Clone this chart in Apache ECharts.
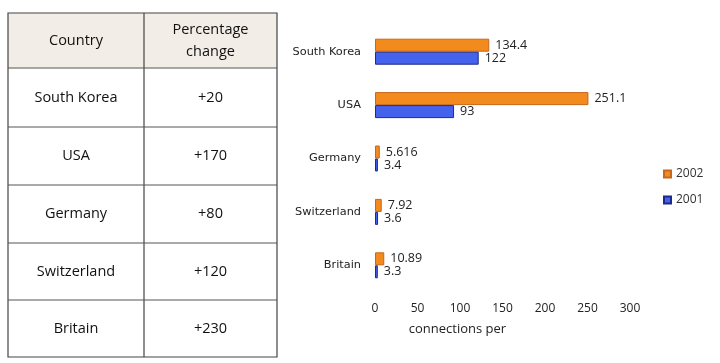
<!DOCTYPE html>
<html><head><meta charset="utf-8">
<script src="https://cdn.jsdelivr.net/npm/echarts@6/dist/echarts.min.js"></script>
<style>html,body{margin:0;padding:0;background:#fff}#c{width:720px;height:363px}</style>
</head><body><div id="c"></div>
<script>
const countries = ['South Korea', 'USA', 'Germany', 'Switzerland', 'Britain'];
const pctChange = ['+20', '+170', '+80', '+120', '+230'];
const tableHeaders = ['Country', 'Percentage\nchange'];
const values2002 = [134.4, 251.1, 5.616, 7.92, 10.89];
const values2001 = [122, 93, 3.4, 3.6, 3.3];
const seriesNames = ['2002', '2001'];
const xTicks = [0, 300, 50];
const axisTitle = 'connections per';

const chart = echarts.init(document.getElementById('c'));
const tX0 = 8, tX1 = 144, tX2 = 277;
const rowsY = [13, 68, 127, 185, 243, 300, 357];
const g = [];
g.push({type:'rect', shape:{x:tX0, y:rowsY[0], width:tX2-tX0, height:rowsY[1]-rowsY[0]}, style:{fill:'#f3ede7'}, z:0});
g.push({type:'rect', shape:{x:tX0, y:rowsY[0], width:tX2-tX0, height:rowsY[6]-rowsY[0]}, style:{fill:'none', stroke:'#444', lineWidth:1.2}, z:2});
g.push({type:'line', shape:{x1:tX1, y1:rowsY[0], x2:tX1, y2:rowsY[6]}, style:{stroke:'#444', lineWidth:1.2}, z:2});
for (let i=1;i<6;i++) g.push({type:'line', shape:{x1:tX0, y1:rowsY[i], x2:tX2, y2:rowsY[i]}, style:{stroke:'#555', lineWidth:1}, z:2});
const tf = '"Open Sans", sans-serif';
g.push({type:'text', x:(tX0+tX1)/2, y:(rowsY[0]+rowsY[1])/2, style:{text:tableHeaders[0], font:'14.5px '+tf, fill:'#111', align:'center', verticalAlign:'middle'}, z:3});
g.push({type:'text', x:(tX1+tX2)/2, y:(rowsY[0]+rowsY[1])/2, style:{text:tableHeaders[1], font:'14.5px '+tf, fill:'#111', align:'center', verticalAlign:'middle', lineHeight:22}, z:3});
countries.forEach((c,i)=>{
  const cy=(rowsY[i+1]+rowsY[i+2])/2;
  g.push({type:'text', x:(tX0+tX1)/2, y:cy, style:{text:c, font:'14.5px '+tf, fill:'#111', align:'center', verticalAlign:'middle'}, z:3});
  g.push({type:'text', x:(tX1+tX2)/2, y:cy, style:{text:pctChange[i], font:'14.5px '+tf, fill:'#111', align:'center', verticalAlign:'middle'}, z:3});
});

const lbl = {show:true, position:'right', distance:6, color:'#222', fontSize:12.5, fontFamily:tf};
chart.setOption({
  animation:false,
  graphic:g,
  grid:{left:375, right:90, top:25, bottom:71, containLabel:false},
  legend:{data:seriesNames, orient:'vertical', left:658, top:163, itemWidth:7, itemHeight:7, itemGap:14, icon:'rect',
    textStyle:{fontSize:12, color:'#333', fontFamily:tf}},
  xAxis:{type:'value', min:xTicks[0], max:xTicks[1], interval:xTicks[2],
    axisLine:{show:false}, axisTick:{show:false}, splitLine:{show:false},
    axisLabel:{color:'#222', fontSize:12, fontFamily:tf, margin:11},
    name:axisTitle, nameLocation:'middle', nameGap:31, nameTextStyle:{color:'#222', fontSize:13, fontFamily:tf, padding:[0,0,0,-90]}},
  yAxis:{type:'category', data:countries, inverse:true,
    axisLine:{show:false}, axisTick:{show:false},
    axisLabel:{color:'#222', fontSize:11.3, fontFamily:'"DejaVu Sans", sans-serif', margin:14}},
  series:[
    {name:seriesNames[0], type:'bar', data:values2002, barWidth:13, barGap:'0%',
      itemStyle:{color:'#f28a1e', borderColor:'#c8661a', borderWidth:1}, label:lbl},
    {name:seriesNames[1], type:'bar', data:values2001, barWidth:13, barGap:'0%',
      itemStyle:{color:'#4462ec', borderColor:'#1c2a8c', borderWidth:1}, label:lbl}
  ]
});
</script></body></html>
